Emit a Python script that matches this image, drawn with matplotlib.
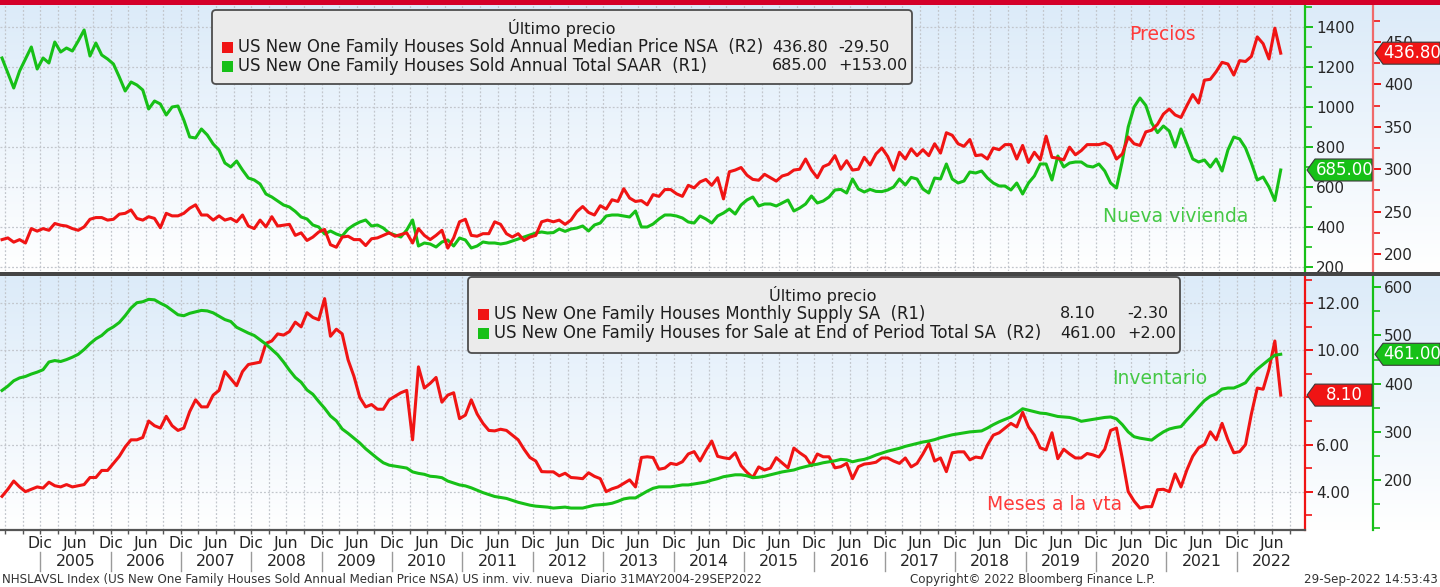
import numpy as np
import pandas as pd
import matplotlib
matplotlib.use("Agg")
import matplotlib.pyplot as plt
from matplotlib.colors import LinearSegmentedColormap
from matplotlib.patches import FancyBboxPatch, Rectangle, Polygon
from matplotlib.ticker import MultipleLocator, FixedLocator
from matplotlib.transforms import IdentityTransform

# monthly data, Jun 2004 .. Aug 2022
sales = [
    1245, 1170, 1095, 1180, 1240, 1300, 1190,
    1245, 1220, 1325, 1275, 1295, 1280, 1330, 1385, 1255, 1320, 1260, 1240,
    1215, 1150, 1080, 1125, 1110, 1085, 990, 1030, 1015, 960, 1000, 1005,
    935, 850, 845, 890, 860, 815, 785, 720, 700, 730, 685, 645,
    635, 615, 565, 550, 530, 510, 500, 478, 450, 440, 410, 400,
    365, 380, 365, 355, 390, 410, 425, 435, 405, 410, 395, 370,
    360, 350, 385, 435, 305, 320, 315, 300, 325, 335, 305, 345,
    335, 295, 305, 325, 320, 320, 315, 320, 330, 340, 350, 360,
    370, 375, 370, 372, 390, 378, 390, 395, 405, 380, 410, 420,
    455, 460, 460, 455, 450, 480, 400, 400, 415, 440, 460, 460,
    455, 445, 425, 420, 455, 440, 420, 455, 470, 490, 465, 510,
    535, 550, 505, 515, 515, 505, 520, 535, 480, 495, 515, 555,
    520, 530, 550, 585, 588, 570, 640, 590, 575, 588, 578, 577,
    585, 600, 640, 610, 648, 640, 590, 570, 645, 640, 715, 640,
    620, 630, 675, 670, 680, 645, 620, 605, 605, 585, 620, 565,
    620, 655, 715, 715, 635, 755, 700, 720, 725, 725, 705, 700,
    715, 680, 620, 595, 730, 900, 1000, 1045, 1008, 920, 872, 905,
    880, 800, 890, 815, 740, 725, 735, 700, 740, 680, 785, 850,
    840, 795, 720, 635, 650, 600, 532, 685,
]
price = [
    217, 219, 214, 217, 213, 230, 227,
    230, 228, 236, 234, 233, 230, 228, 232, 241, 243, 243, 240,
    241, 247, 248, 252, 242, 240, 244, 242, 231, 248, 245, 245,
    248, 254, 258, 246, 246, 240, 245, 240, 242, 238, 246, 233,
    230, 240, 232, 244, 233, 234, 235, 222, 225, 216, 220, 226,
    229, 211, 208, 220, 221, 217, 217, 210, 218, 219, 222, 225,
    221, 223, 225, 213, 230, 222, 217, 222, 228, 207, 219, 238,
    241, 222, 221, 224, 224, 238, 235, 224, 220, 224, 216, 220,
    222, 238, 240, 238, 240, 235, 240, 250, 256, 249, 246, 257,
    253, 264, 262, 277, 266, 262, 263, 258, 270, 268, 276, 276,
    271, 268, 281, 278, 285, 288, 281, 290, 265, 297, 299, 302,
    293, 288, 287, 294, 290, 286, 292, 294, 299, 300, 312, 299,
    290, 303, 306, 316, 300, 310, 299, 300, 314, 305, 318, 325,
    315, 299, 320, 312, 324, 316, 323, 316, 330, 319, 343, 340,
    330, 327, 335, 316, 317, 312, 325, 323, 329, 329, 312, 328,
    308, 320, 311, 339, 314, 313, 311, 326, 317, 322, 329, 329,
    329, 331, 327, 312, 318, 338, 330, 328, 344, 346, 353, 365,
    371, 364, 361, 375, 388, 378, 405, 406, 415, 426, 424, 411,
    428, 427, 433, 456, 448, 430, 466.3, 436.8,
]
supply = [
    3.8, 4.1, 4.45, 4.2, 4.0, 4.1, 4.2,
    4.15, 4.4, 4.25, 4.2, 4.3, 4.2, 4.25, 4.3, 4.6, 4.6, 4.9, 4.9,
    5.2, 5.5, 5.9, 6.2, 6.2, 6.3, 7.0, 6.8, 6.7, 7.2, 6.8, 6.6,
    6.7, 7.4, 7.9, 7.6, 7.6, 8.1, 8.3, 9.1, 8.8, 8.5, 9.1, 9.4,
    9.45, 9.5, 10.3, 10.4, 10.7, 10.65, 10.8, 11.2, 11.0, 11.6, 11.4, 11.3,
    12.2, 10.6, 10.9, 10.7, 9.6, 8.9, 8.0, 7.6, 7.7, 7.5, 7.5, 7.9,
    8.05, 8.2, 8.3, 6.2, 9.3, 8.4, 8.6, 8.85, 7.8, 8.1, 8.2, 7.1,
    7.25, 7.9, 7.3, 6.9, 6.6, 6.58, 6.65, 6.6, 6.4, 6.2, 5.8, 5.45,
    5.3, 4.85, 4.84, 4.84, 4.67, 4.78, 4.6, 4.58, 4.55, 4.8, 4.65, 4.55,
    4.0, 4.12, 4.2, 4.35, 4.5, 4.2, 5.45, 5.48, 5.45, 4.95, 5.0, 5.2,
    5.15, 5.27, 5.6, 5.7, 5.3, 5.75, 6.15, 5.5, 5.44, 5.4, 5.65, 5.1,
    4.82, 4.6, 5.05, 4.92, 5.0, 5.44, 5.22, 5.01, 5.85, 5.65, 5.48, 5.1,
    5.6, 5.48, 5.48, 5.01, 5.06, 5.2, 4.55, 5.06, 5.17, 5.2, 5.25, 5.43,
    5.43, 5.3, 5.2, 5.43, 5.05, 5.2, 5.6, 6.05, 5.3, 5.43, 4.85, 5.65,
    5.69, 5.69, 5.35, 5.47, 5.43, 5.98, 6.4, 6.5, 6.7, 6.9, 6.75, 7.37,
    6.75, 6.4, 5.86, 5.77, 6.5, 5.4, 5.8, 5.6, 5.43, 5.43, 5.62, 5.56,
    5.47, 5.8, 6.6, 6.7, 5.4, 4.0, 3.6, 3.3, 3.36, 3.36, 4.08, 4.1,
    4.0, 4.75, 4.2, 4.92, 5.5, 5.86, 6.0, 6.54, 6.2, 6.9, 6.2, 5.65,
    5.7, 6.0, 7.3, 8.4, 8.35, 9.2, 10.4, 8.1,
]
forsale = [
    386, 395, 406, 412, 415, 420, 424,
    429, 445, 448, 446, 450, 455, 461, 471, 483, 493, 500, 511,
    518, 527, 541, 557, 568, 570, 575, 574, 567, 561, 552, 543,
    541, 546, 549, 552, 551, 547, 540, 533, 529, 517, 511, 505,
    500, 491, 482, 471, 460, 445, 428, 413, 403, 387, 378, 363,
    349, 333, 323, 306, 297, 287, 277, 265, 255, 245, 236, 231,
    229, 227, 225, 217, 214, 212, 208, 207, 205, 198, 194, 190,
    188, 184, 179, 174, 170, 166, 164, 162, 158, 154, 151, 148,
    146, 145, 144, 142, 143, 144, 142, 142, 142, 145, 148, 149,
    150, 152, 156, 161, 163, 163, 170, 177, 183, 186, 186, 186,
    188, 190, 190, 192, 194, 196, 200, 203, 207, 209, 211, 211,
    209, 205, 206, 208, 211, 214, 217, 219, 221, 225, 228, 231,
    233, 236, 238, 240, 243, 242, 238, 241, 243, 247, 252, 256,
    260, 263, 266, 270, 273, 276, 279, 281, 284, 288, 291, 294,
    296, 298, 300, 301, 302, 308, 315, 321, 326, 331, 339, 348,
    345, 342, 339, 338, 335, 332, 331, 330, 327, 322, 324, 326,
    328, 330, 331, 327, 315, 300, 290, 287, 285, 283, 292, 300,
    306, 309, 311, 325, 338, 352, 365, 374, 379, 389, 391, 391,
    396, 402, 418, 430, 440, 450, 459, 461,
]

top_names = ["US New One Family Houses Sold Annual Median Price NSA  (R2)",
             "US New One Family Houses Sold Annual Total SAAR  (R1)"]
bot_names = ["US New One Family Houses Monthly Supply SA  (R1)",
             "US New One Family Houses for Sale at End of Period Total SA  (R2)"]
years = list(range(2005, 2023))

W, H = 1440, 587
RED = "#f01414"
GREEN = "#17c017"
TXT = "#1e1e1e"

dates = pd.date_range("2004-06-01", periods=len(sales), freq="MS")
t = np.asarray(dates.year + (dates.month - 0.5) / 12.0)
XLIM = (2004.43, 2022.97)


def fx(x):
    return x / W


def fy(y):
    return 1 - y / H


fig = plt.figure(figsize=(W / 100, H / 100), dpi=100)
fig.patch.set_facecolor("white")

# gradient backgrounds behind both panels
cmap_bg = LinearSegmentedColormap.from_list("bg", ["#dcebf9", "#ffffff"])
for top, bot in [(5, 271), (276, 530)]:
    bg = fig.add_axes([0, fy(bot), 1, (bot - top) / H], zorder=-5)
    bg.imshow(np.linspace(0, 1, 256).reshape(-1, 1), aspect="auto", cmap=cmap_bg,
              extent=(0, 1, 0, 1), origin="upper")
    bg.axis("off")


def style_axes(ax, color, offset=None):
    for s in ["top", "left", "bottom"]:
        ax.spines[s].set_visible(False)
    ax.spines["right"].set_visible(True)
    ax.spines["right"].set_color(color)
    ax.spines["right"].set_linewidth(1.6)
    if offset is not None:
        ax.spines["right"].set_position(("axes", offset))
    ax.yaxis.tick_right()
    ax.tick_params(axis="y", which="major", length=6, width=1.4, color=color,
                   labelsize=11, labelcolor="#262626", pad=2)
    ax.tick_params(axis="y", which="minor", length=5, width=1.2, color=color)
    ax.tick_params(axis="x", which="both", length=0, labelbottom=False)


def grid_axes(ax):
    ax.set_facecolor("none")
    ax.set_xlim(*XLIM)
    ax.xaxis.set_major_locator(FixedLocator(np.arange(2004.5, 2023, 0.25)))
    ax.grid(True, which="major", color="#c2c6cc", linestyle=(0, (1.5, 1.6)), lw=0.9)
    ax.set_axisbelow(True)


R2_POS = 1373 / 1305

# ---- top panel: sales (R1) + price (R2)
ax1 = fig.add_axes([0, fy(271), 1305 / W, 266 / H])
grid_axes(ax1)
ax1.plot(t, sales, color=GREEN, lw=2.2, solid_joinstyle="round")
ax1.set_ylim(180, 1510)
ax1.set_yticks(range(200, 1401, 200))
ax1.yaxis.set_minor_locator(MultipleLocator(100))

ax2 = ax1.twinx()
ax2.plot(t, price, color=RED, lw=2.2, solid_joinstyle="round")
ax2.set_ylim(180, 493.6)
ax2.set_yticks(range(200, 451, 50))
ax2.yaxis.set_minor_locator(MultipleLocator(25))
ax2.set_xlim(*XLIM)
style_axes(ax1, GREEN)
style_axes(ax2, "#f06a6a", R2_POS)
ax2.tick_params(axis="y", which="both", color=RED)

# ---- bottom panel: supply (R1) + for sale (R2)
ax3 = fig.add_axes([0, fy(530), 1305 / W, 254 / H])
grid_axes(ax3)
ax3.plot(t, supply, color=RED, lw=2.2, solid_joinstyle="round")
ax3.set_ylim(2.37, 13.16)
ax3.set_yticks([4, 6, 8, 10, 12])
ax3.yaxis.set_minor_locator(MultipleLocator(1))
# the 8.00 label sits under the last-value tag, as in the original
ax3.yaxis.set_major_formatter(lambda v, p: "" if abs(v - 8) < 1e-9 else f"{v:.2f}")

ax4 = ax3.twinx()
ax4.plot(t, forsale, color=GREEN, lw=2.2, solid_joinstyle="round")
ax4.set_ylim(96.5, 623.4)
ax4.set_yticks(range(200, 601, 100))
ax4.yaxis.set_minor_locator(MultipleLocator(50))
ax4.set_xlim(*XLIM)
style_axes(ax3, RED)
style_axes(ax4, GREEN, R2_POS)

ax3.spines["bottom"].set_visible(True)
ax3.spines["bottom"].set_color("#555555")
ax3.spines["bottom"].set_linewidth(1.6)

xt = np.arange(2004.5, 2023, 0.25)
xl = []
for v in xt:
    frac = round(v % 1, 2)
    if v > 2004.9 and frac == 0.0:
        xl.append("Dic")
    elif v > 2004.9 and frac == 0.5:
        xl.append("Jun")
    else:
        xl.append("")
ax3.set_xticks(xt, xl)
ax3.tick_params(axis="x", which="major", length=3, width=1, color="#555555",
                labelbottom=True, labelsize=11.3, labelcolor="#262626", pad=1)

# year labels and separators under the x axis
for y in years:
    ax3.text(y + 0.5, -0.125, str(y), transform=ax3.get_xaxis_transform(),
             ha="center", va="center", fontsize=11.3, color="#262626")
    ax3.plot([y, y], [-0.087, -0.16], transform=ax3.get_xaxis_transform(),
             color="#9a9a9a", lw=1, clip_on=False)

# frame bars
fig.add_artist(Rectangle((0, fy(5)), 1, 5 / H, color="#d4002a", lw=0))
fig.add_artist(Rectangle((0, fy(275.5)), 1, 4 / H, color="#454545", lw=0))


def legend_box(x0, y0, x1, y1, title_x, rows, val_x, chg_x):
    box = FancyBboxPatch((x0, H - y1), x1 - x0, y1 - y0,
                         boxstyle="round,pad=0,rounding_size=4",
                         transform=IdentityTransform(), facecolor="#ebebeb",
                         edgecolor="#4d4d4d", lw=1.3, zorder=10)
    fig.add_artist(box)
    fig.text(fx(title_x), fy(y0 + 18), "Último precio", ha="center", va="center",
             fontsize=11.6, color=TXT, zorder=11)
    for i, (name, color, series) in enumerate(rows):
        yc = y0 + 37 + 19 * i
        sq = Rectangle((x0 + 10, H - yc - 6), 11, 11, transform=IdentityTransform(),
                       facecolor=color, edgecolor="none", zorder=11)
        fig.add_artist(sq)
        fig.text(fx(x0 + 26), fy(yc), name, ha="left", va="center",
                 fontsize=11.9, color=TXT, zorder=11)
        fig.text(fx(val_x), fy(yc), f"{series[-1]:.2f}", ha="left", va="center",
                 fontsize=11.5, color=TXT, zorder=11)
        fig.text(fx(chg_x), fy(yc), f"{series[-1] - series[-2]:+.2f}", ha="left",
                 va="center", fontsize=11.5, color=TXT, zorder=11)


legend_box(212, 10, 912, 84, 562,
           [(top_names[0], RED, price), (top_names[1], GREEN, sales)], 772, 838)
legend_box(468, 277, 1180, 353, 823,
           [(bot_names[0], RED, supply), (bot_names[1], GREEN, forsale)], 1060, 1127)


def value_tag(ax, value, x0, x1, color):
    yd = ax.transData.transform((0, value))[1]
    pts = [(x0, yd), (x0 + 8, yd + 11), (x1, yd + 11), (x1, yd - 11), (x0 + 8, yd - 11)]
    fig.add_artist(Polygon(pts, closed=True, transform=IdentityTransform(),
                           facecolor=color, edgecolor="#3a3a3a", lw=0.8, zorder=12))
    fig.text(fx((x0 + 8 + x1) / 2 + 1), yd / H, f"{value:.2f}", ha="center",
             va="center", fontsize=12, color="white", zorder=13)


value_tag(ax2, price[-1], 1375, 1440, RED)
value_tag(ax1, sales[-1], 1307, 1372, GREEN)
value_tag(ax4, forsale[-1], 1375, 1440, GREEN)
value_tag(ax3, supply[-1], 1307, 1372, RED)

# series annotations
fig.text(fx(1162), fy(34), "Precios", ha="center", va="center", fontsize=13.5, color="#ff3a3a")
fig.text(fx(1176), fy(216), "Nueva vivienda", ha="center", va="center", fontsize=13.5, color="#45c845")
fig.text(fx(1160), fy(379), "Inventario", ha="center", va="center", fontsize=13.5, color="#45c845")
fig.text(fx(1055), fy(504), "Meses a la vta", ha="center", va="center", fontsize=13.5, color="#ff3a3a")

# footer
fig.text(fx(2), fy(580), "NHSLAVSL Index (US New One Family Houses Sold Annual Median Price NSA) "
         "US inm. viv. nueva  Diario 31MAY2004-29SEP2022", ha="left", va="center",
         fontsize=8.55, color="#333333")
fig.text(fx(1033), fy(580), "Copyright\u00a9 2022 Bloomberg Finance L.P.", ha="center",
         va="center", fontsize=8.55, color="#333333")
fig.text(fx(1438), fy(580), "29-Sep-2022 14:53:43", ha="right", va="center",
         fontsize=8.55, color="#333333")

fig.savefig("out.png", dpi=100)
